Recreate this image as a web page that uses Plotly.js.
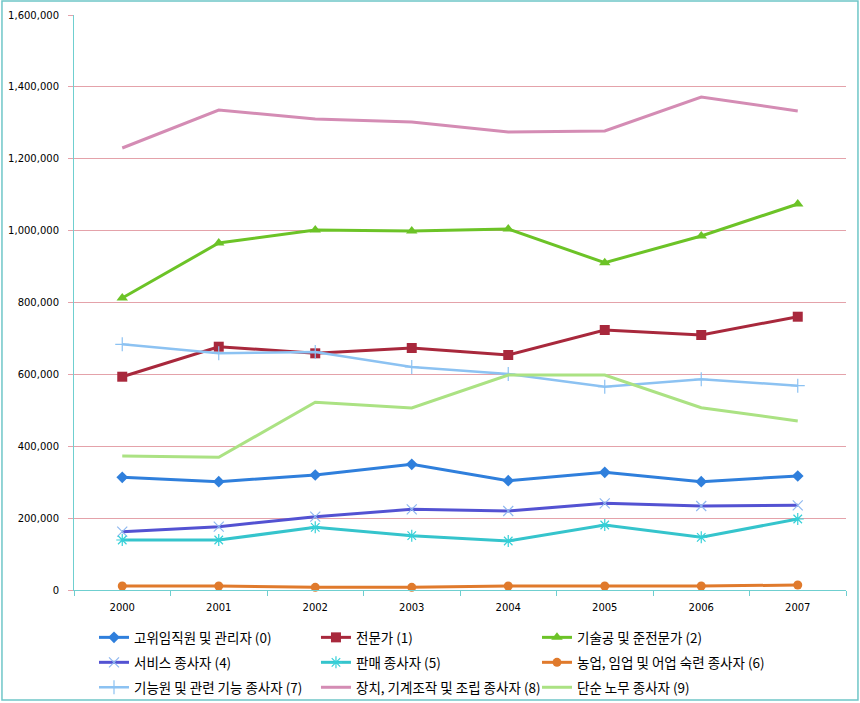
<!DOCTYPE html>
<html>
<head>
<meta charset="utf-8">
<script src="https://cdn.plot.ly/plotly-3.0.1.min.js"></script>
<style>html,body{margin:0;padding:0;background:#fff;}#chart{width:860px;height:703px;}</style>
</head>
<body>
<div id="chart"></div>
<script>
const years = ["2000","2001","2002","2003","2004","2005","2006","2007"];
const names = [
  "고위임직원 및 관리자 (0)",
  "전문가 (1)",
  "기술공 및 준전문가 (2)",
  "서비스 종사자 (4)",
  "판매 종사자 (5)",
  "농업, 임업 및 어업 숙련 종사자 (6)",
  "기능원 및 관련 기능 종사자 (7)",
  "장치, 기계조작 및 조립 종사자 (8)",
  "단순 노무 종사자 (9)"
];
const s0 = [313500, 301400, 320000, 349700, 304200, 327400, 301400, 317200];
const s1 = [593500, 677000, 658600, 673400, 653900, 723500, 709600, 760500];
const s2 = [812500, 965600, 1001700, 999000, 1004500, 910800, 985000, 1074100];
const s4 = [162300, 176200, 204000, 224500, 219800, 241200, 233700, 235600];
const s5 = [139100, 139100, 174400, 151200, 136300, 180900, 146600, 197600];
const s6 = [11100, 11100, 7400, 7400, 11000, 11000, 11000, 13900];
const s7 = [683700, 658600, 662300, 620500, 601000, 565700, 586300, 568500];
const s8 = [1229900, 1335600, 1310600, 1302300, 1274400, 1277200, 1371800, 1332900];
const s9 = [372900, 369200, 522300, 506400, 598300, 598300, 507300, 470300];
const yTicks = [0, 200000, 400000, 600000, 800000, 1000000, 1200000, 1400000, 1600000];
const yTickText = ["0", "200,000", "400,000", "600,000", "800,000", "1,000,000", "1,200,000", "1,400,000", "1,600,000"];

const styles = [
  {vals: s0, color: "#2f7fdc", w: 3, marker: {symbol: "diamond", size: 9, color: "#2f7fdc"}},
  {vals: s1, color: "#a8283c", w: 3, marker: {symbol: "square", size: 10, color: "#a8283c"}},
  {vals: s2, color: "#6cc327", w: 3, marker: {symbol: "triangle-up", size: 10, color: "#6cc327"}},
  {vals: s4, color: "#5352d2", w: 3, marker: {symbol: "x-thin-open", size: 10, color: "#8fb8f0", line: {width: 1.2, color: "#8fb8f0"}}},
  {vals: s5, color: "#35c4cc", w: 3, marker: {symbol: "asterisk-open", size: 10, color: "#35d0d8", line: {width: 1.2, color: "#35d0d8"}}},
  {vals: s6, color: "#e07a2c", w: 3, marker: {symbol: "circle", size: 9, color: "#e07a2c"}},
  {vals: s7, color: "#8cc2f2", w: 2.5, marker: {symbol: "cross-thin-open", size: 10, color: "#8cc2f2", line: {width: 1.2, color: "#8cc2f2"}}},
  {vals: s8, color: "#d48cb4", w: 3, marker: null},
  {vals: s9, color: "#abe283", w: 3, marker: null}
];

const colX = [0.1093, 0.3674, 0.6244];
const rowY = [0.1151, 0.0796, 0.0441];

const layout = {
  width: 860,
  height: 703,
  paper_bgcolor: "#ffffff",
  plot_bgcolor: "#ffffff",
  margin: {l: 74, r: 14, t: 15, b: 113},
  font: {family: "DejaVu Sans, sans-serif", size: 10, color: "#000"},
  showlegend: true,
  xaxis: {
    type: "category",
    range: [-0.5, 7.5],
    showgrid: false,
    showline: true,
    linecolor: "#6fcfd0",
    linewidth: 1,
    ticks: "outside",
    tickson: "boundaries",
    ticklen: 5,
    tickcolor: "#6fcfd0",
    ticklabelstandoff: 8,
    tickfont: {family: "DejaVu Sans, sans-serif", size: 10, color: "#000"},
    zeroline: false,
    fixedrange: true
  },
  yaxis: {
    range: [0, 1600000],
    tickvals: yTicks,
    ticktext: yTickText,
    showgrid: true,
    gridcolor: "#e4a2aa",
    gridwidth: 1,
    showline: true,
    linecolor: "#6fcfd0",
    linewidth: 1,
    ticks: "outside",
    ticklen: 5,
    tickcolor: "#e4a2aa",
    ticklabelstandoff: 7,
    tickfont: {family: "DejaVu Sans, sans-serif", size: 10, color: "#000"},
    zeroline: false,
    fixedrange: true
  },
  shapes: [
    {type: "rect", xref: "paper", yref: "paper", x0: -0.0933, x1: 1.0155, y0: -0.1913, y1: 1.0243,
     line: {color: "#6fc6c8", width: 1.5}, fillcolor: "rgba(0,0,0,0)", layer: "below"}
  ]
};

const traces = styles.map((st, i) => {
  const lid = i === 0 ? "legend" : "legend" + (i + 1);
  layout[lid] = {
    orientation: "h",
    xref: "container",
    yref: "container",
    x: colX[i % 3],
    xanchor: "left",
    y: rowY[Math.floor(i / 3)],
    yanchor: "top",
    itemwidth: 30,
    font: {family: "Noto Sans CJK KR, sans-serif", size: 13.5, color: "#000"},
    bgcolor: "rgba(0,0,0,0)"
  };
  const t = {
    type: "scatter",
    x: years,
    y: st.vals,
    name: names[i],
    legend: lid,
    mode: st.marker ? "lines+markers" : "lines",
    line: {color: st.color, width: st.w},
    cliponaxis: false
  };
  if (st.marker) t.marker = st.marker;
  return t;
});

Plotly.newPlot("chart", traces, layout, {displayModeBar: false, staticPlot: true});
</script>
</body>
</html>
